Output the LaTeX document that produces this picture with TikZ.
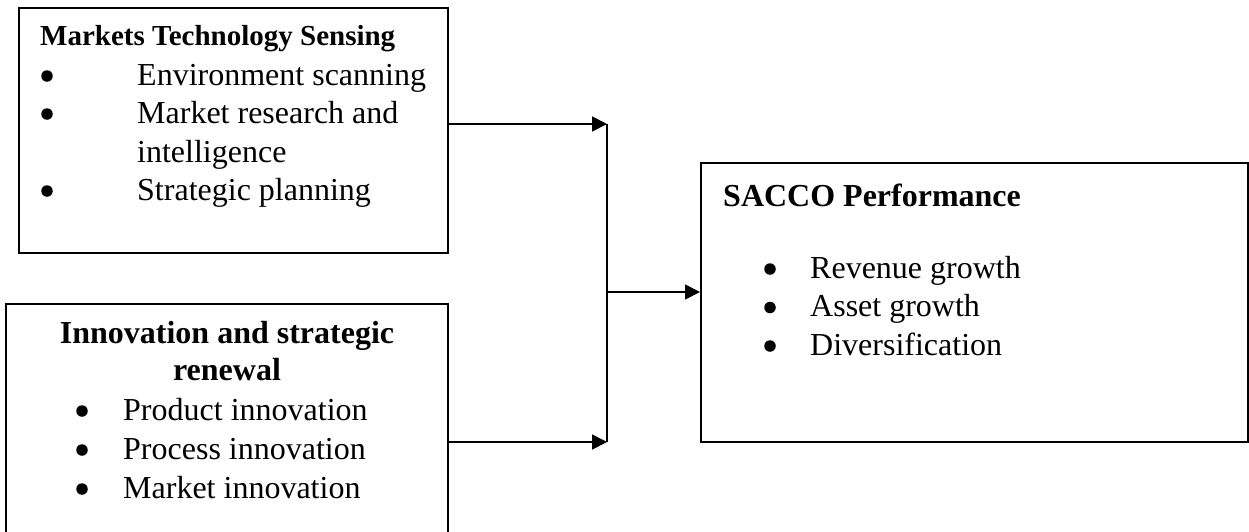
\documentclass[tikz,border=0pt]{standalone}
\usepackage{fontspec}
\setmainfont{Liberation Serif}
\usetikzlibrary{arrows.meta,positioning}
\tikzset{
  fbox/.style={draw, line width=2pt, inner sep=0pt, anchor=north west},
  ttl/.style={anchor=base west, inner sep=0pt, font=\fontsize{32}{38}\selectfont\bfseries},
  txt/.style={anchor=base west, inner sep=0pt, font=\fontsize{32}{38}\selectfont},
  bul/.style={circle, fill=black, inner sep=0pt, minimum size=11.5pt},
  link/.style={line width=1.8pt, -{Triangle[length=15pt, width=15pt]}},
}
\begin{document}
\begin{tikzpicture}[x=1pt, y=-1pt]
  \useasboundingbox (0,0) rectangle (1249,531);
  \clip (0,0) rectangle (1249,531);

  % --- Markets technology sensing ---
  \node[fbox, minimum width=429pt, minimum height=245pt] (mts) at (18,7) {};
  \node[ttl, font=\fontsize{29}{35}\selectfont\bfseries] (mtsT) at (40,45) {Markets Technology Sensing};
  \foreach \y in {85,123,200}
    \node[bul] (mtsB\y) at (47,\y-9) {};
  \node[txt] (mtsA) at (137,85) {Environment scanning};
  \node[txt] (mtsB) at (137,123) {Market research and};
  \node[txt] (mtsC) at (137,162) {intelligence};
  \node[txt] (mtsD) at (137,200) {Strategic planning};

  % --- Innovation and strategic renewal ---
  \node[fbox, minimum width=442pt, minimum height=260pt] (isr) at (5,303) {};
  \node[ttl, anchor=base] (isrT1) at (227,343) {Innovation and strategic};
  \node[ttl, anchor=base] (isrT2) at (227,380) {renewal};
  \foreach \t [count=\i] in {Product innovation, Process innovation, Market innovation} {
    \node[bul] (isrB\i) at (82,372+39*\i) {};
    \node[txt] (isr\i) at (123,381+39*\i) {\t};
  }

  % --- SACCO performance ---
  \node[fbox, minimum width=547pt, minimum height=279pt] (perf) at (700,162) {};
  \node[ttl] (perfT) at (723,206) {SACCO Performance};
  \foreach \t [count=\i] in {Revenue growth, Asset growth, Diversification} {
    \node[bul] (perfB\i) at (770,230.5+38.5*\i) {};
    \node[txt] (perf\i) at (810,239.5+38.5*\i) {\t};
  }

  % --- Connectors ---
  \coordinate (jTop) at (607,124);
  \coordinate (jBot) at (607,442);
  \coordinate (jMid) at (607,292);
  \draw[link] (mts.east |- jTop) -- (jTop);
  \draw[link] (isr.east |- jBot) -- (jBot);
  \draw[line width=1.8pt] (jTop) -- (jBot);
  \draw[link] (jMid) -- (perf.west |- jMid);
\end{tikzpicture}
\end{document}
